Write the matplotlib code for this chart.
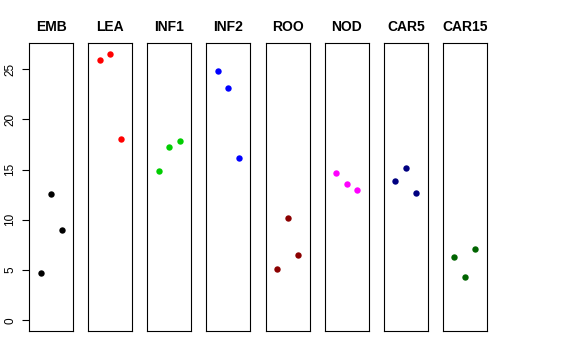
import matplotlib
matplotlib.use("Agg")
import matplotlib.pyplot as plt

plt.rcParams['font.family'] = ['Liberation Sans', 'DejaVu Sans']

# tissues and their three replicate values
tissues = ['EMB', 'LEA', 'INF1', 'INF2', 'ROO', 'NOD', 'CAR5', 'CAR15']
values = [
    [4.7, 12.6, 9.0],
    [25.9, 26.5, 18.0],
    [14.9, 17.2, 17.8],
    [24.8, 23.1, 16.1],
    [5.1, 10.2, 6.5],
    [14.7, 13.6, 13.0],
    [13.9, 15.2, 12.7],
    [6.3, 4.3, 7.1],
]
colors = ['black', 'red', '#00CD00', 'blue', '#8B0000', 'magenta', '#000080', '#006400']
yticks = [0, 5, 10, 15, 20, 25]

fig, axes = plt.subplots(1, len(tissues), figsize=(5.76, 3.6), dpi=100, sharey=True)
fig.subplots_adjust(left=0.0503, right=0.8455, top=0.8797, bottom=0.0806, wspace=0.341)

for i, ax in enumerate(axes):
    ax.plot([1, 2, 3], values[i], 'o', color=colors[i], markersize=4.6, markeredgewidth=0)
    ax.set_xlim(-0.1, 4.1)
    ax.set_ylim(-1.06, 27.56)
    ax.set_xticks([])
    ax.set_title(tissues[i], fontsize=10, fontweight='bold', pad=9)
    for s in ax.spines.values():
        s.set_linewidth(0.8)
    if i == 0:
        ax.set_yticks(yticks)
        ax.tick_params(axis='y', length=5, width=0.8, labelsize=8.5, pad=4)
        for lab in ax.get_yticklabels():
            lab.set_rotation(90)
            lab.set_va('center')
    else:
        ax.tick_params(axis='y', left=False, labelleft=False)

fig.savefig('out.png', dpi=100)
